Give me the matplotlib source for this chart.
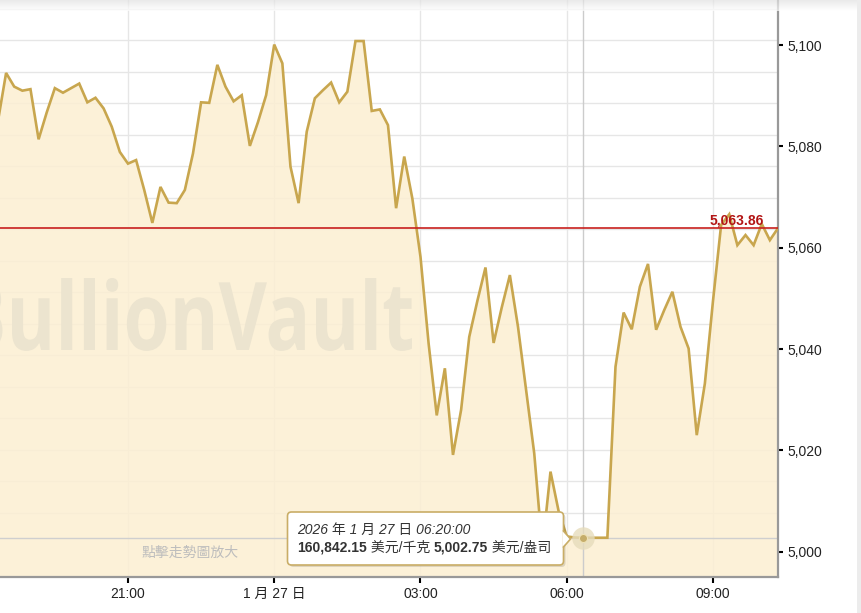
import numpy as np
import pandas as pd
import matplotlib
matplotlib.use('Agg')
import matplotlib.pyplot as plt
from matplotlib.patches import FancyBboxPatch, Polygon, PathPatch, Rectangle
from matplotlib.textpath import TextPath
from matplotlib.font_manager import FontProperties
from matplotlib.transforms import Affine2D
from matplotlib.colors import LinearSegmentedColormap

plt.rcParams['font.family'] = ['Liberation Sans', 'Noto Sans CJK TC', 'DejaVu Sans']

# 10 minute gold price, USD/oz, 26 Jan 18:20 -> 27 Jan 10:20
times = pd.date_range('2026-01-26 18:20', '2026-01-27 10:20', freq='10min')
prices = [
    5085.0, 5094.5, 5091.8, 5091.0, 5091.3, 5081.4, 5086.7, 5091.5, 5090.6, 5091.5,
    5092.4, 5088.7, 5089.6, 5087.5, 5083.9, 5078.9, 5076.6, 5077.3, 5071.4, 5064.9,
    5072.0, 5068.9, 5068.8, 5071.4, 5078.6, 5088.7, 5088.6, 5096.1, 5091.8, 5088.9,
    5090.1, 5080.1, 5084.8, 5090.1, 5100.1, 5096.4, 5076.0, 5068.8, 5082.9, 5089.5,
    5091.1, 5092.6, 5088.7, 5090.8, 5100.8, 5100.8, 5087.0, 5087.3, 5084.2, 5067.8,
    5078.0, 5069.7, 5058.2, 5041.1, 5026.9, 5036.2, 5019.1, 5028.0, 5042.4, 5049.5,
    5056.1, 5041.2, 5048.2, 5054.6, 5044.4, 5031.9, 5019.4, 5000.5, 5015.8, 5008.0,
    5003.0, 5002.8, 5002.75, 5002.75, 5002.75, 5002.75, 5036.5, 5047.2, 5043.9, 5052.3,
    5056.8, 5043.8, 5047.7, 5051.3, 5044.4, 5040.1, 5023.0, 5033.2, 5049.5, 5064.5,
    5066.6, 5060.5, 5062.5, 5060.5, 5064.7, 5061.5, 5063.86,
]

last_price = 5063.86
hover_time = pd.Timestamp('2026-01-27 06:20')
hover_oz = 5002.75
hover_kg = 160842.15
oz_per_kg = hover_kg / hover_oz

xtick_times = pd.to_datetime(['2026-01-26 21:00', '2026-01-27 00:00', '2026-01-27 03:00',
                              '2026-01-27 06:00', '2026-01-27 09:00'])
xtick_labels = ['21:00', '1 月 27 日', '03:00', '06:00', '09:00']
ytick_vals = [5000, 5020, 5040, 5060, 5080, 5100]
kg_grid = np.arange(161000, 164401, 200)

W, H = 861, 613
gold = '#c8a64e'

fig = plt.figure(figsize=(W / 100, H / 100), dpi=100)
fig.patch.set_facecolor('white')
ax = fig.add_axes([0, 1 - 577 / H, 778 / W, 577 / H])
ax.set_facecolor('white')

ax.set_xlim(pd.Timestamp('2026-01-26 18:22:30'), pd.Timestamp('2026-01-27 10:20'))
ax.set_ylim(4995.0, 5108.9)

# grid: vertical on time ticks, horizontal from the hidden USD/kg axis
for t in xtick_times:
    ax.axvline(t, color='#e6e6e6', lw=1, zorder=0)
for g in kg_grid:
    ax.axhline(g / oz_per_kg, color='#e6e6e6', lw=1, zorder=0)

ax.fill_between(times, prices, 4990, color='#fcefd2', alpha=0.85, lw=0, zorder=1)

# watermark
fp = FontProperties(family='Open Sans', weight='bold')
wm = TextPath((0, 0), 'BullionVault', size=100, prop=fp)
wm_tail = TextPath((0, 0), 'ullionVault', size=100, prop=fp)
l_h = TextPath((0, 0), 'l', size=100, prop=fp).get_extents().height
sx = 400 / wm_tail.get_extents().width
sy = 72 / l_h
bb = wm.get_extents()
tr = Affine2D().scale(sx, sy).translate(412 - bb.x1 * sx, H - 350)
ax.add_patch(PathPatch(wm, transform=tr, color='#ece4cf', lw=0, zorder=1.5))

ax.plot(times, prices, color=gold, lw=1.9, zorder=3, solid_joinstyle='miter')

ax.axhline(last_price, color='#c8201e', lw=1.2, zorder=4)
ax.annotate('5,063.86', xy=(1, last_price), xycoords=('axes fraction', 'data'),
            xytext=(-14, 3.5), textcoords='offset pixels', ha='right', va='baseline',
            fontsize=10, fontweight='bold', color='#b31515', zorder=5)

# crosshair + hover marker
ax.axvline(hover_time, color='#cccccc', lw=1, zorder=2)
ax.axhline(hover_oz, color='#cfcfcf', lw=1, zorder=2)
ax.scatter([hover_time], [hover_oz], s=260, color='#e6dcbc', alpha=0.8, lw=0, zorder=5)
ax.scatter([hover_time], [hover_oz], s=34, facecolor='#c5ad6a', edgecolor='#eee2b8',
           lw=0.8, zorder=6)

ax.set_xticks(xtick_times)
ax.set_xticklabels(xtick_labels)
ax.set_yticks(ytick_vals)
ax.set_yticklabels([f'{v:,}' for v in ytick_vals])
ax.yaxis.tick_right()
ax.tick_params(axis='x', direction='out', length=4, width=1.5, color='black',
               labelsize=10, labelcolor='#222222', pad=3.5)
ax.tick_params(axis='y', direction='out', length=3.5, width=1.5, color='black',
               labelsize=10, labelcolor='#222222', pad=3)
for s in ['left', 'top']:
    ax.spines[s].set_visible(False)
for s in ['right', 'bottom']:
    ax.spines[s].set_color('#999999')
    ax.spines[s].set_linewidth(1.6)

# overlay in pixel coordinates for tooltip, hint text and page chrome
ov = fig.add_axes([0, 0, 1, 1], zorder=10)
ov.set_xlim(0, W)
ov.set_ylim(H, 0)
ov.axis('off')
ov.patch.set_alpha(0)

ov.text(141, 553, '點擊走勢圖放大', fontsize=10, color='#bdbdbd', va='center', ha='left')

band_cmap = LinearSegmentedColormap.from_list('band', ['#e2e2e2', '#ffffff'])
ov.imshow(np.linspace(0, 1, 12).reshape(-1, 1), cmap=band_cmap, aspect='auto', alpha=0.7,
          extent=[0, W, 11, 0])
ov.add_patch(Rectangle((857, 0), 4, H, fc='#ececec', lw=0))
ov.set_xlim(0, W)
ov.set_ylim(H, 0)

x0, y0, bw, bh = 287.5, 512, 276, 53
ov.add_patch(FancyBboxPatch((x0 + 2, y0 + 2), bw, bh, boxstyle='round,pad=0,rounding_size=4',
                            fc='#000000', alpha=0.12, lw=0))
ov.add_patch(FancyBboxPatch((x0, y0), bw, bh, boxstyle='round,pad=0,rounding_size=4',
                            fc='white', ec='#c9ad66', lw=1.2))
ov.add_patch(Polygon([(x0 + bw - 1, 531), (x0 + bw + 7, 539), (x0 + bw - 1, 547)],
                     closed=True, fc='white', lw=0))
ov.plot([x0 + bw, x0 + bw + 7, x0 + bw], [531, 539, 531 + 16], color='#c9ad66', lw=1.2)

ov.text(297, 529.5, '2026 年 1 月 27 日 06:20:00', fontsize=10, style='italic',
        color='#333333', va='center')
parts = [(f'{hover_kg:,.2f}', 'bold'), (' 美元/千克 ', 'normal'),
         (f'{hover_oz:,.2f}', 'bold'), (' 美元/盎司', 'normal')]
prev = ov.text(297, 547.5, parts[0][0], fontsize=10, fontweight=parts[0][1],
               color='#333333', va='center')
for txt, wt in parts[1:]:
    prev = ov.annotate(txt, xy=(1, 0.5), xycoords=prev, va='center', ha='left',
                       fontsize=10, fontweight=wt, color='#333333')

fig.savefig('out.png', dpi=100)
plt.close(fig)
